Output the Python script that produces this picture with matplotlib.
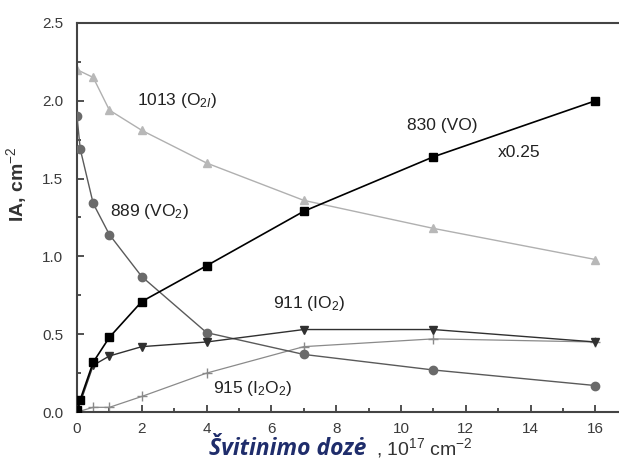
import matplotlib
matplotlib.use("Agg")
import matplotlib.pyplot as plt
from matplotlib.ticker import MultipleLocator

plt.rcParams['font.family'] = ['Liberation Sans', 'DejaVu Sans']
plt.rcParams['mathtext.fontset'] = 'custom'
plt.rcParams['mathtext.rm'] = 'Liberation Sans'
plt.rcParams['mathtext.it'] = 'Liberation Sans:italic'
plt.rcParams['mathtext.bf'] = 'Liberation Sans:bold'

# Data
vo_x = [0, 0.1, 0.5, 1, 2, 4, 7, 11, 16]
vo_y = [0.01, 0.08, 0.32, 0.48, 0.71, 0.94, 1.29, 1.64, 2.00]

vo2_x = [0, 0.1, 0.5, 1, 2, 4, 7, 11, 16]
vo2_y = [1.90, 1.69, 1.34, 1.14, 0.87, 0.51, 0.37, 0.27, 0.17]

o2i_x = [0, 0.5, 1, 2, 4, 7, 11, 16]
o2i_y = [2.20, 2.15, 1.94, 1.81, 1.60, 1.36, 1.18, 0.98]

io2_x = [0, 0.5, 1, 2, 4, 7, 11, 16]
io2_y = [0.0, 0.30, 0.36, 0.42, 0.45, 0.53, 0.53, 0.45]

i2o2_x = [0, 0.5, 1, 2, 4, 7, 11, 16]
i2o2_y = [0.0, 0.03, 0.03, 0.10, 0.25, 0.42, 0.47, 0.45]

xticks = [0, 2, 4, 6, 8, 10, 12, 14, 16]
yticks = [0.0, 0.5, 1.0, 1.5, 2.0, 2.5]

fig = plt.figure(figsize=(6.19, 4.67), dpi=100)
ax = fig.add_axes([77/619, 1-412/467, (619-77)/619, (412-23)/467])

ax.plot(o2i_x, o2i_y, color='#b0b0b0', lw=1.0, marker='^', ms=6,
        mfc='#b8b8b8', mec='#b8b8b8', zorder=2)
ax.plot(i2o2_x, i2o2_y, color='#8a8a8a', lw=0.9, marker='+', ms=7,
        mew=1.0, zorder=2)
ax.plot(vo2_x, vo2_y, color='#5a5a5a', lw=1.0, marker='o', ms=6,
        mfc='#6a6a6a', mec='#6a6a6a', zorder=3)
ax.plot(io2_x, io2_y, color='#303030', lw=1.0, marker='v', ms=6,
        mfc='#303030', mec='#303030', markevery=list(range(1, len(io2_x))), zorder=3)
ax.plot(vo_x, vo_y, color='#000000', lw=1.2, marker='s', ms=5.5,
        mfc='#000000', mec='#000000', zorder=4)

ax.set_xlim(0, (619-77)/32.4)
ax.set_ylim(0, 2.5)
ax.set_xticks(xticks)
ax.set_yticks(yticks)
ax.set_xticklabels([str(t) for t in xticks])
ax.set_yticklabels([f"{t:.1f}" for t in yticks])
ax.xaxis.set_minor_locator(MultipleLocator(1))
ax.yaxis.set_minor_locator(MultipleLocator(0.25))
ax.tick_params(which='both', direction='in', color='#333333', width=1.2)
ax.tick_params(which='major', length=5, labelsize=11, labelcolor='#3a3a3a')
ax.tick_params(axis='x', which='major', pad=7)
ax.tick_params(axis='y', which='major', pad=10)
ax.tick_params(which='minor', length=3)
ax.spines['right'].set_visible(False)
for s in ['left', 'top', 'bottom']:
    ax.spines[s].set_linewidth(1.5)
    ax.spines[s].set_color('#444444')

tc = '#222222'
fs = 12.5
ax.text(1.85, 2.0, "1013 (O$_{2I}$)", fontsize=fs, color=tc, va='center')
ax.text(1.02, 1.29, "889 (VO$_2$)", fontsize=fs, color=tc, va='center')
ax.text(10.19, 1.84, "830 (VO)", fontsize=fs, color=tc, va='center')
ax.text(13.0, 1.67, "x0.25", fontsize=fs, color=tc, va='center')
ax.text(6.05, 0.70, "911 (IO$_2$)", fontsize=fs, color=tc, va='center')
ax.text(4.2, 0.15, "915 (I$_2$O$_2$)", fontsize=fs, color=tc, va='center')

ax.set_ylabel("IA, cm$^{-2}$", fontsize=14, fontweight='bold', color='#333333')
ax.yaxis.set_label_coords(-0.088, 0.585)

fig.text(209/619, 1-455/467, "Švitinimo dozė", fontsize=16.5, fontweight='bold',
         style='italic', color='#1f2d6b', family=['Open Sans', 'DejaVu Sans'],
         va='baseline')
fig.text(376/619, 1-455/467, ", 10$^{17}$ cm$^{-2}$", fontsize=14, color='#333333',
         va='baseline')

fig.savefig("out.png", dpi=100)
